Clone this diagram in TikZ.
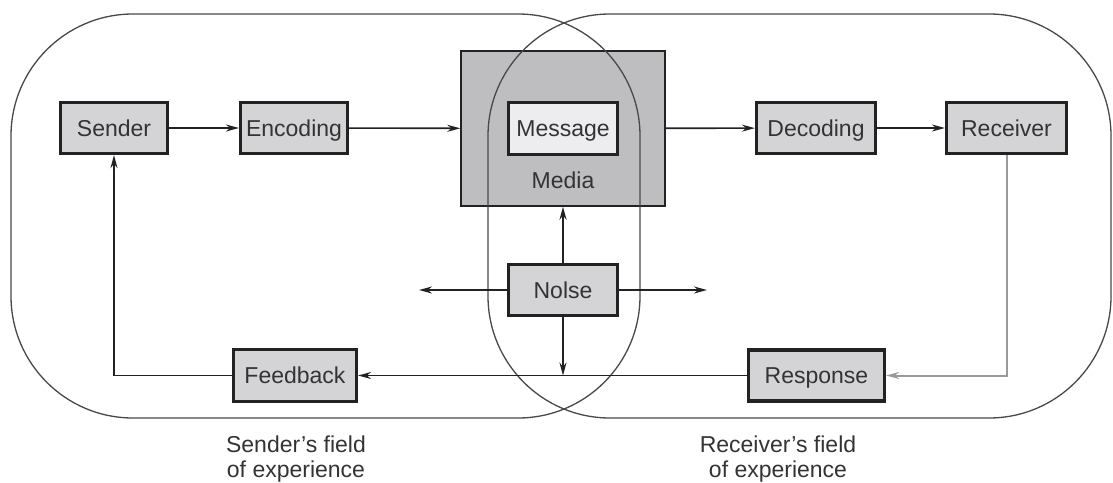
\documentclass[tikz,border=0pt]{standalone}
\usepackage{fontspec}
\setmainfont{Liberation Sans}
\usetikzlibrary{arrows.meta}

\definecolor{boxfill}{HTML}{D4D4D6}
\definecolor{msgfill}{HTML}{EDEDEF}
\definecolor{mediafill}{HTML}{BEBEC0}
\definecolor{ink}{HTML}{222222}
\definecolor{txt}{HTML}{333333}
\definecolor{fieldline}{HTML}{484848}
\definecolor{greyline}{HTML}{9A9A9A}

\tikzset{
  stagebox/.style={draw=ink, line width=3.2pt, fill=boxfill, inner sep=0pt,
    text=txt, font=\fontsize{23}{27}\selectfont,
    text height=16.5pt, text depth=0pt},
  msgbox/.style={stagebox, fill=msgfill},
  mediabox/.style={draw=ink, line width=1.5pt, fill=mediafill, inner sep=0pt},
  field/.style={draw=fieldline, line width=1.3pt, rounded corners=122pt},
  flow/.style={draw=ink, line width=1.6pt, -{Stealth[length=13pt,width=7pt]}},
  caption/.style={text=txt, align=center, font=\fontsize{23}{25}\selectfont},
}

\begin{document}
\begin{tikzpicture}[x=1pt,y=-1pt]
\useasboundingbox (0,0) rectangle (1113,482);

% media channel behind everything
\node[mediabox, minimum width=204pt, minimum height=155pt] (media) at (563,128.5) {};
\node[text=txt, font=\fontsize{23}{27}\selectfont] (medialabel) at (563,180) {Media};

% the two overlapping fields of experience
\draw[field] (11,14) rectangle (640,418);
\draw[field] (488,14) rectangle (1111,418);

% stages
\node[stagebox, minimum width=107pt, minimum height=51pt] (sender) at (114,128) {Sender};
\node[stagebox, minimum width=107pt, minimum height=51pt] (encoding) at (294,128) {Encoding};
\node[msgbox, minimum width=109pt, minimum height=52pt] (message) at (563,128.5) {Message};
\node[stagebox, minimum width=119pt, minimum height=51pt] (decoding) at (816,128) {Decoding};
\node[stagebox, minimum width=120pt, minimum height=51pt] (receiver) at (1006.5,128) {Receiver};
\node[stagebox, minimum width=109pt, minimum height=51pt] (noise) at (563,290) {Nolse};
\node[stagebox, minimum width=123pt, minimum height=52pt] (feedback) at (295,375.5) {Feedback};
\node[stagebox, minimum width=136pt, minimum height=51pt] (response) at (816.5,375.5) {Response};

% free ends of the noise arrows
\coordinate (noiseL) at (419,290);
\coordinate (noiseR) at (707,290);
\coordinate (noiseD) at (563,375.5);

% forward path
\draw[flow] (sender) -- (encoding);
\draw[flow] (encoding) -- (media);
\draw[flow] (media) -- (decoding);
\draw[flow] (decoding) -- (receiver);

% return path
\draw[flow, draw=greyline, line width=2pt] (receiver.south) |- (response.east);
\draw[flow] (response) -- (feedback);
\draw[flow] (feedback.west) -| (sender.south);

% noise
\draw[flow] (noise) -- (media);
\draw[flow] (noise) -- (noiseL);
\draw[flow] (noise) -- (noiseR);
\draw[flow] (noise) -- (noiseD);

% captions
\node[caption] (sfield) at (296,459) {Sender's field\\of experience};
\node[caption] (rfield) at (778,459) {Receiver's field\\of experience};
\end{tikzpicture}
\end{document}
